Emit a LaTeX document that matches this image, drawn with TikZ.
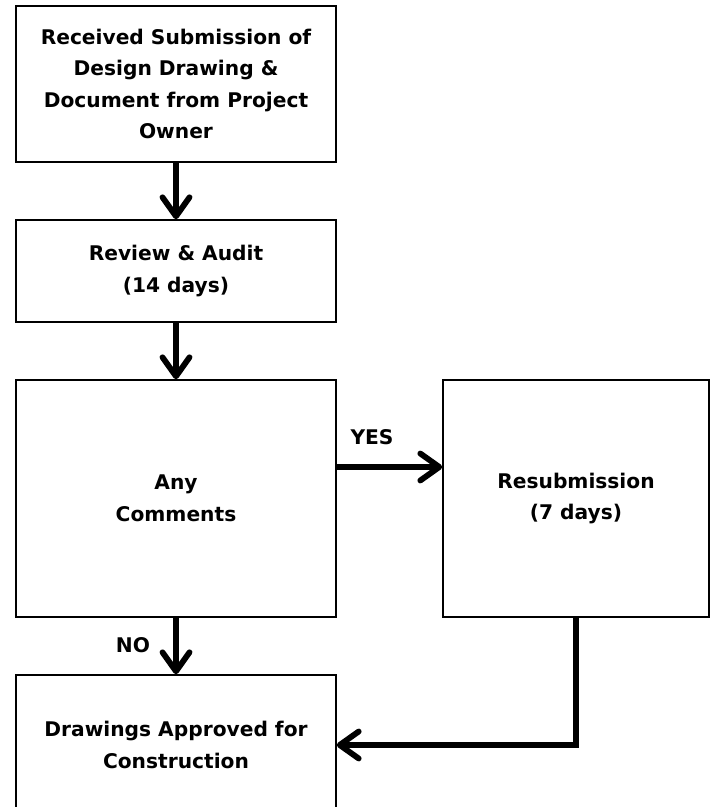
\documentclass[tikz,border=0pt]{standalone}
\usepackage{fontspec}
\setmainfont{DejaVu Sans}
\usepackage{tikz}
\usetikzlibrary{arrows.meta,calc}

\begin{document}
\begin{tikzpicture}[x=0.5pt,y=-0.5pt,
	>={Straight Barb[length=9.5pt,width=13.5pt,round]},
	box/.style={draw,line width=0.8pt,align=center,inner sep=0pt,
		font=\bfseries\fontsize{10.1}{15.8}\selectfont},
	flow/.style={->,line width=2.9pt},
	tag/.style={font=\bfseries\fontsize{10.1}{15.8}\selectfont}]
	% Frame
	\useasboundingbox (0,0) rectangle (711,807);
	
	% Boxes
	\node[box,minimum width=160pt,minimum height=78pt] (recv) at (176,84)
		{Received Submission of\\Design Drawing \&\\Document from Project\\Owner};
	\node[box,minimum width=160pt,minimum height=51pt] (review) at (176,271)
		{Review \& Audit\\(14 days)};
	\node[box,minimum width=160pt,minimum height=118.5pt] (comments) at (176,498.5)
		{Any\\Comments};
	\node[box,minimum width=133pt,minimum height=118.5pt] (resub) at (576,498.5)
		{Resubmission\\(7 days)};
	\node[box,minimum width=160pt,minimum height=70pt] (approved) at (176,745)
		{Drawings Approved for\\Construction};
	
	% Arrows
	\draw[flow] (recv) -- (review);
	\draw[flow] (review) -- (comments);
	\draw[flow] (comments) -- (approved);
	\coordinate (yes) at ($(comments.east)+(0,-31.5)$);
	\draw[flow] (yes) -- (yes -| resub.west);
	\draw[flow] (resub.south) |- (approved.east);
	
	% Labels
	\node[tag] (yeslbl) at (372,437) {YES};
	\node[tag] (nolbl) at (133,645) {NO};
\end{tikzpicture}
\end{document}
